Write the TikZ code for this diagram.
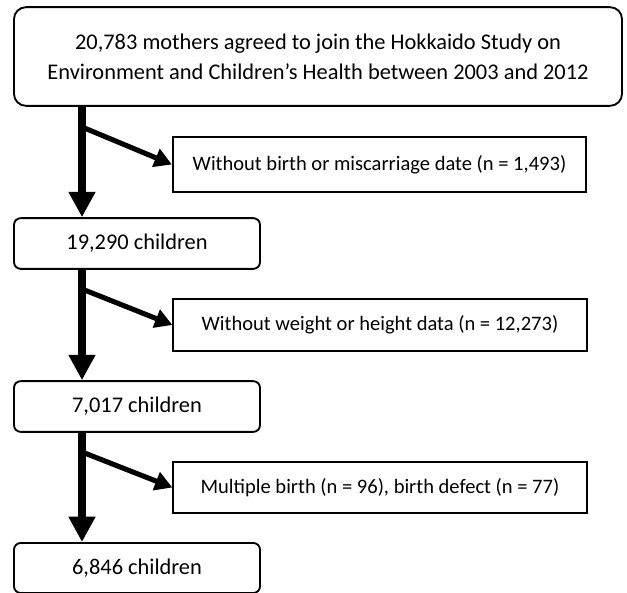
\documentclass[tikz,border=0pt]{standalone}
\usepackage{fontspec}
\setmainfont{Carlito}
\usetikzlibrary{arrows.meta}

\begin{document}
\begin{tikzpicture}[x=0.75pt,y=-0.75pt,
    stage/.style={draw,line width=1.4pt,rounded corners=5pt,align=center,inner sep=0pt,
      font=\fontsize{16.8pt}{22.5pt}\selectfont},
    excl/.style={draw,line width=1.4pt,align=center,inner sep=0pt,
      font=\fontsize{15.4pt}{20pt}\selectfont},
    mainarrow/.style={line width=6pt,-{Triangle[length=19pt,width=19pt]}},
    sidearrow/.style={line width=3.8pt,-{Triangle[length=13pt,width=14pt]}}]
    \useasboundingbox (0,0) rectangle (627,592);

    \node[stage,rounded corners=9pt,minimum width=456pt,minimum height=74pt] (top) at (318,56.5)
      {20,783 mothers agreed to join the Hokkaido Study on\\Environment and Children’s Health between 2003 and 2012};
    \node[stage,minimum width=184.5pt,minimum height=38pt] (c1) at (137,243.5) {19,290 children};
    \node[stage,minimum width=184.5pt,minimum height=38pt] (c2) at (137,406.5) {7,017 children};
    \node[stage,minimum width=184.5pt,minimum height=37.5pt] (c3) at (137,568) {6,846 children};

    \node[excl,minimum width=310pt,minimum height=41pt] (x1) at (379.5,164.5) {Without birth or miscarriage date (n = 1,493)};
    \node[excl,minimum width=310pt,minimum height=39pt] (x2) at (380,325) {Without weight or height data (n = 12,273)};
    \node[excl,minimum width=310pt,minimum height=38pt] (x3) at (380,487.5) {Multiple birth (n = 96), birth defect (n = 77)};

    % branch points on the main line
    \coordinate (b1) at (82,127);
    \coordinate (b2) at (82,289);
    \coordinate (b3) at (82,452);

    \draw[mainarrow] (top.south -| b1) -- (c1.north -| b1);
    \draw[mainarrow] (c1.south -| b2) -- (c2.north -| b2);
    \draw[mainarrow] (c2.south -| b3) -- (c3.north -| b3);

    \draw[sidearrow] (b1) -- (x1.west);
    \draw[sidearrow] (b2) -- (x2.west);
    \draw[sidearrow] (b3) -- (x3.west);
\end{tikzpicture}
\end{document}
